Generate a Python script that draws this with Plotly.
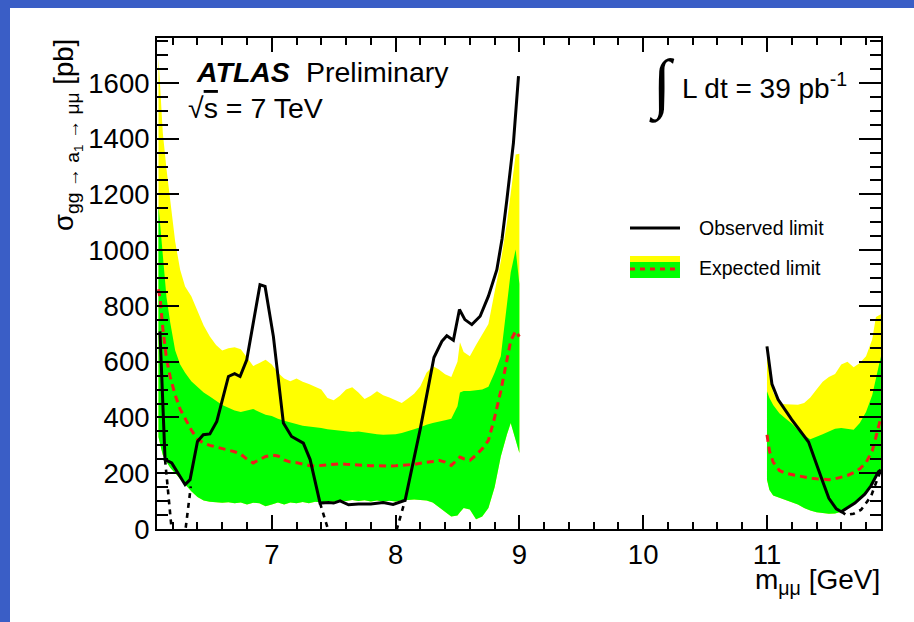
import plotly.graph_objects as go

# ---- expected-limit bands, low-mass window (6.085 - 9.0 GeV) ----
mass_lo = [6.085, 6.10, 6.12, 6.15, 6.18, 6.22, 6.26, 6.30, 6.35, 6.40, 6.45, 6.50,
           6.55, 6.60, 6.65, 6.70, 6.75, 6.80, 6.85, 6.90, 6.95, 7.00, 7.05, 7.10,
           7.15, 7.20, 7.25, 7.30, 7.35, 7.40, 7.45, 7.50, 7.55, 7.60, 7.65, 7.70,
           7.75, 7.80, 7.85, 7.90, 7.95, 8.00, 8.05, 8.10, 8.15, 8.20, 8.25, 8.30,
           8.35, 8.40, 8.45, 8.50, 8.52, 8.55, 8.60, 8.65, 8.70, 8.75, 8.80, 8.85,
           8.90, 8.93, 8.97, 9.00]
exp_p2_lo = [1690, 1580, 1420, 1290, 1175, 1030, 930, 870, 835, 780, 730, 690,
             660, 640, 648, 652, 645, 615, 585, 595, 607, 590, 560, 540,
             530, 540, 528, 520, 510, 500, 470, 462, 478, 500, 508, 490,
             466, 478, 494, 480, 472, 462, 452, 468, 485, 512, 560, 585,
             572, 555, 545, 600, 670, 635, 620, 660, 700, 735, 850, 960,
             1100, 1200, 1343, 1346]
exp_p1_lo = [1160, 1080, 960, 830, 740, 640, 590, 560, 530, 510, 490, 475,
             460, 445, 435, 425, 420, 425, 430, 420, 410, 405, 395, 388,
             382, 375, 370, 368, 366, 362, 358, 356, 354, 350, 348, 350,
             346, 342, 340, 338, 338, 340, 344, 352, 358, 365, 374, 380,
             386, 390, 395, 440, 490, 495, 495, 498, 500, 510, 560, 620,
             820, 920, 1002, 880]
exp_m1_lo = [330, 300, 265, 240, 220, 200, 180, 160, 135, 115, 102, 98,
             95, 94, 96, 92, 95, 88, 94, 92, 82, 88, 95, 88,
             95, 92, 97, 92, 98, 95, 100, 98, 102, 100, 104, 100,
             103, 99, 102, 98, 101, 99, 103, 104, 106, 105, 102, 95,
             80, 62, 45, 48, 60, 75, 70, 35, 45, 75, 150, 260,
             340, 380, 320, 273]
exp_med_lo = [860, 820, 720, 610, 545, 480, 430, 395, 355, 322, 308, 300,
              294, 288, 283, 277, 268, 250, 237, 248, 260, 265, 262, 248,
              240, 238, 233, 228, 226, 228, 232, 234, 234, 232, 230, 229,
              228, 227, 226, 225, 226, 227, 228, 229, 232, 236, 238, 242,
              246, 240, 228, 248, 258, 252, 246, 265, 288, 318, 400, 495,
              610, 675, 710, 690]

# ---- expected-limit bands, high-mass window (11.0 - 11.92 GeV) ----
mass_hi = [11.00, 11.02, 11.05, 11.10, 11.15, 11.20, 11.25, 11.30, 11.35, 11.40,
           11.45, 11.50, 11.55, 11.60, 11.65, 11.70, 11.75, 11.80, 11.85, 11.88, 11.92]
exp_p2_hi = [661, 580, 490, 450, 447, 446, 446, 452, 472, 500,
             528, 545, 556, 590, 600, 580, 595, 620, 680, 760, 770]
exp_p1_hi = [494, 470, 445, 415, 396, 378, 355, 335, 322, 330,
             340, 350, 360, 362, 360, 356, 380, 420, 480, 540, 620]
exp_m1_hi = [177, 140, 120, 110, 103, 96, 88, 75, 66, 60,
             57, 55, 56, 62, 78, 92, 110, 130, 160, 185, 210]
exp_med_hi = [338, 280, 240, 210, 200, 195, 190, 185, 182, 180,
              178, 177, 180, 185, 192, 202, 216, 238, 280, 330, 400]

# ---- observed limit ----
obs_x_lo = [6.097, 6.138, 6.192, 6.30, 6.34, 6.40, 6.447, 6.50, 6.556, 6.65, 6.70,
            6.744, 6.798, 6.905, 6.946, 7.013, 7.094, 7.16, 7.255, 7.31, 7.39, 7.457,
            7.50, 7.552, 7.62, 7.70, 7.80, 7.90, 7.98, 8.077, 8.20, 8.31, 8.374,
            8.414, 8.467, 8.516, 8.56, 8.616, 8.683, 8.75, 8.818, 8.86, 8.899,
            8.952, 8.993]
obs_y_lo = [709, 249, 237, 159, 177, 314, 338, 341, 386, 547, 557,
            547, 607, 876, 870, 691, 380, 332, 308, 249, 93, 95,
            93, 101, 87, 90, 90, 95, 88, 103, 360, 615, 673,
            693, 677, 787, 751, 733, 763, 835, 930, 1040, 1181,
            1385, 1624]
obs_x_hi = [11.00, 11.04, 11.09, 11.20, 11.336, 11.40, 11.45, 11.50, 11.56, 11.60,
            11.71, 11.79, 11.84, 11.90, 11.92]
obs_y_hi = [655, 520, 464, 392, 312, 228, 170, 110, 72, 62,
            93, 125, 155, 205, 212]

# observed limit where it falls off the bottom of the axis (dotted)
dip_x = [6.138, 6.24, 6.346, None, 7.39, 7.74, 8.077, None,
         11.60, 11.64, 11.70, 11.76, 11.84, 11.90, 11.92]
dip_y = [249, -230, 153, None, 93, -420, 103, None,
         63, 50, 55, 69, 117, 189, 212]

YELLOW = "#FFFF00"
GREEN = "#00FF00"
RED = "#EE1C1C"
BLUE = "#3A5EC6"
FONT = "Liberation Sans, Arial, Helvetica, sans-serif"

# plot-area frame in page pixels
L, R, T, B = 157, 881, 38, 529
W, H = R - L, B - T


def px(x):
    return (x - L) / W


def py(y):
    return (B - y) / H


def band(xs, upper, lower, color):
    return go.Scatter(x=xs + xs[::-1], y=upper + lower[::-1], fill="toself",
                      fillcolor=color, line=dict(width=0), mode="lines",
                      hoverinfo="skip", showlegend=False)


fig = go.Figure()
fig.add_trace(band(mass_lo, exp_p2_lo, exp_m1_lo, YELLOW))
fig.add_trace(band(mass_hi, exp_p2_hi, exp_m1_hi, YELLOW))
fig.add_trace(band(mass_lo, exp_p1_lo, exp_m1_lo, GREEN))
fig.add_trace(band(mass_hi, exp_p1_hi, exp_m1_hi, GREEN))
for xs, ys in ((mass_lo, exp_med_lo), (mass_hi, exp_med_hi)):
    fig.add_trace(go.Scatter(x=xs, y=ys, mode="lines", showlegend=False,
                             line=dict(color=RED, width=3, dash="7px,5px")))
fig.add_trace(go.Scatter(x=dip_x, y=dip_y, mode="lines", showlegend=False,
                         line=dict(color="black", width=2.6, dash="5px,5px")))
for xs, ys in ((obs_x_lo, obs_y_lo), (obs_x_hi, obs_y_hi)):
    fig.add_trace(go.Scatter(x=xs, y=ys, mode="lines", showlegend=False,
                             line=dict(color="black", width=3)))

shapes = [
    # page border strips
    dict(type="rect", xref="paper", yref="paper", x0=px(0), x1=px(10),
         y0=py(622), y1=py(0), fillcolor=BLUE, line=dict(width=0), layer="below"),
    dict(type="rect", xref="paper", yref="paper", x0=px(0), x1=px(914),
         y0=py(8), y1=py(0), fillcolor=BLUE, line=dict(width=0), layer="below"),
    # legend swatches
    dict(type="line", xref="paper", yref="paper", x0=px(630), x1=px(680),
         y0=py(228), y1=py(228), line=dict(color="black", width=3)),
    dict(type="rect", xref="paper", yref="paper", x0=px(630), x1=px(680),
         y0=py(278), y1=py(256), fillcolor=YELLOW, line=dict(width=0)),
    dict(type="rect", xref="paper", yref="paper", x0=px(630), x1=px(680),
         y0=py(278), y1=py(262), fillcolor=GREEN, line=dict(width=0)),
    dict(type="line", xref="paper", yref="paper", x0=px(630), x1=px(680),
         y0=py(269), y1=py(269), line=dict(color=RED, width=3, dash="5px,5px")),
]

annotations = [
    dict(text="<b><i>ATLAS</i></b>", x=px(194), y=py(72), xanchor="left",
         yanchor="middle", font=dict(size=28.5, color="black", family=FONT)),
    dict(text="Preliminary", x=px(304), y=py(72), xanchor="left",
         yanchor="middle", font=dict(size=28.5, color="black", family=FONT)),
    dict(text="√<span style='text-decoration:overline'>s</span> = 7 TeV",
         x=px(186), y=py(108), xanchor="left",
         yanchor="middle", font=dict(size=28.5, color="black", family=FONT)),
    dict(text="∫", x=px(662), y=py(84), xanchor="center", yanchor="middle",
         font=dict(size=66, color="black", family="Liberation Serif, serif")),
    dict(text="L dt = 39 pb<sup>-1</sup>", x=px(680), y=py(86), xanchor="left",
         yanchor="middle", font=dict(size=28, color="black", family=FONT)),
    dict(text="Observed limit", x=px(697), y=py(228), xanchor="left",
         yanchor="middle", font=dict(size=19.5, color="black", family=FONT)),
    dict(text="Expected limit", x=px(697), y=py(268), xanchor="left",
         yanchor="middle", font=dict(size=19.5, color="black", family=FONT)),
    dict(text="m<sub>μμ</sub> [GeV]", x=px(882), y=py(581), xanchor="right",
         yanchor="middle", font=dict(size=28, color="black", family=FONT)),
    dict(text="σ<sub>gg → a<sub>1</sub> → μμ</sub> [pb]", x=px(67), y=py(37),
         xanchor="center", yanchor="top", textangle=-90,
         font=dict(size=27.5, color="black", family=FONT)),
]
for a in annotations:
    a.update(xref="paper", yref="paper", showarrow=False)

fig.update_layout(
    width=914, height=622,
    margin=dict(l=L, r=914 - R, t=T, b=622 - B, pad=0),
    paper_bgcolor="white", plot_bgcolor="white",
    shapes=shapes, annotations=annotations,
    font=dict(family=FONT, color="black"),
    xaxis=dict(range=[6.073, 11.921], tickvals=[7, 8, 9, 10, 11],
               ticks="inside", ticklen=14, tickwidth=1.6, tickcolor="black",
               showline=True, linewidth=2, linecolor="black", mirror="ticks",
               showgrid=False, zeroline=False,
               tickfont=dict(size=27.5, family=FONT, color="black"),
               minor=dict(ticks="inside", ticklen=7, tickwidth=1.6,
                          tickcolor="black", dtick=0.2, showgrid=False)),
    yaxis=dict(range=[0, 1761], tickvals=[0, 200, 400, 600, 800, 1000, 1200, 1400, 1600],
               ticks="inside", ticklen=22, tickwidth=1.6, tickcolor="black",
               showline=True, linewidth=2, linecolor="black", mirror="ticks",
               showgrid=False, zeroline=False,
               tickfont=dict(size=27.5, family=FONT, color="black"),
               minor=dict(ticks="inside", ticklen=11, tickwidth=1.6,
                          tickcolor="black", dtick=50, showgrid=False)),
)

fig.write_html("out.html")
